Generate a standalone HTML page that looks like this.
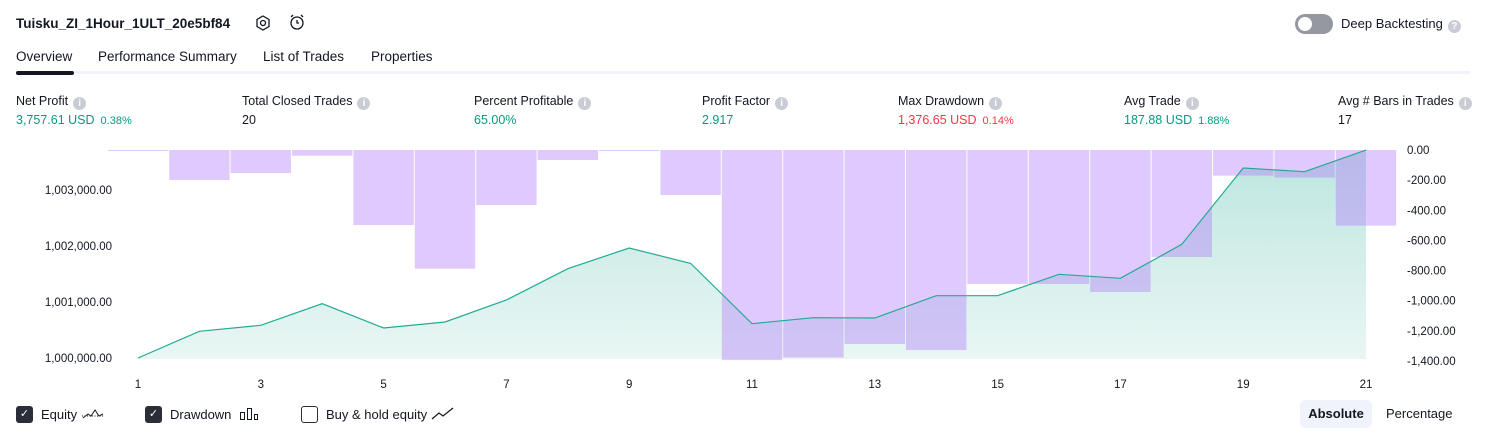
<!DOCTYPE html>
<html><head><meta charset="utf-8"><style>
body{margin:0;width:1486px;height:438px;background:#fff;font-family:"Liberation Sans",sans-serif;color:#131722;position:relative;overflow:hidden}
.a{position:absolute;white-space:nowrap}
.lbl{font-size:12.5px;color:#131722}
.val{font-size:12.5px}
.i{display:inline-block;width:13px;height:13px;border-radius:50%;background:#c9ccd4;color:#fff;font-size:10px;text-align:center;line-height:13px;vertical-align:-1px;margin-left:5px;font-weight:bold}
.g{color:#089981}.r{color:#f23645}
.sm{font-size:11px;margin-left:6px}
.leg{display:flex;align-items:center;font-size:13px;height:20px}
.cb{display:inline-block;width:17px;height:17px;border-radius:3px;margin-right:8px;box-sizing:border-box}
</style></head><body>
<div class="a" style="left:16px;top:16px;font-size:13.5px;font-weight:bold">Tuisku_ZI_1Hour_1ULT_20e5bf84</div>
<svg class="a" style="left:255px;top:15px" width="16" height="16"><polygon points="8,1 14,4.5 14,11.5 8,15 2,11.5 2,4.5" fill="none" stroke="#131722" stroke-width="1.3"/><circle cx="8" cy="8" r="2.5" fill="none" stroke="#131722" stroke-width="1.3"/></svg>
<svg class="a" style="left:288px;top:13px" width="18" height="18"><circle cx="9" cy="10" r="6" fill="none" stroke="#131722" stroke-width="1.3"/><path d="M9 7v3h2M3 4l2-2M15 4l-2-2" stroke="#131722" stroke-width="1.3" fill="none"/></svg>
<div class="a" style="left:1295px;top:14px;width:38px;height:20px;border-radius:10px;background:#9598a1"><div style="position:absolute;left:3px;top:3px;width:14px;height:14px;border-radius:50%;background:#fff"></div></div>
<div class="a" style="left:1341px;top:16px;font-size:13px">Deep Backtesting<span class="i">?</span></div>
<div class="a" style="left:16px;top:49px;font-size:13.5px">Overview</div>
<div class="a" style="left:98px;top:49px;font-size:13.5px">Performance Summary</div>
<div class="a" style="left:263px;top:49px;font-size:13.5px">List of Trades</div>
<div class="a" style="left:371px;top:49px;font-size:13.5px">Properties</div>
<div class="a" style="left:16px;top:71px;width:1454px;height:3px;background:#f0f3fa"></div>
<div class="a" style="left:16px;top:71px;width:58px;height:4px;border-radius:2px;background:#131722"></div>

<div class="a lbl" style="left:16px;top:94px">Net Profit<span class="i">i</span></div>
<div class="a val g" style="left:16px;top:113px">3,757.61 USD<span class="sm">0.38%</span></div>
<div class="a lbl" style="left:242px;top:94px">Total Closed Trades<span class="i">i</span></div>
<div class="a val" style="left:242px;top:113px">20</div>
<div class="a lbl" style="left:474px;top:94px">Percent Profitable<span class="i">i</span></div>
<div class="a val g" style="left:474px;top:113px">65.00%</div>
<div class="a lbl" style="left:702px;top:94px">Profit Factor<span class="i">i</span></div>
<div class="a val g" style="left:702px;top:113px">2.917</div>
<div class="a lbl" style="left:898px;top:94px">Max Drawdown<span class="i">i</span></div>
<div class="a val r" style="left:898px;top:113px">1,376.65 USD<span class="sm">0.14%</span></div>
<div class="a lbl" style="left:1124px;top:94px">Avg Trade<span class="i">i</span></div>
<div class="a val g" style="left:1124px;top:113px">187.88 USD<span class="sm">1.88%</span></div>
<div class="a lbl" style="left:1338px;top:94px">Avg # Bars in Trades<span class="i">i</span></div>
<div class="a val" style="left:1338px;top:113px">17</div>

<svg class="a" id="chart" style="left:0;top:0" width="1486" height="400">
<defs><linearGradient id="fg" x1="0" y1="0" x2="0" y2="1"><stop offset="0" stop-color="#22ab94" stop-opacity="0.3"/><stop offset="1" stop-color="#22ab94" stop-opacity="0.1"/></linearGradient></defs>
</svg>

<div class="a leg" style="left:16px;top:404px"><span class="cb" style="background:#2a2e39;color:#fff;font-size:11px;text-align:center;line-height:17px">✓</span>Equity&nbsp;<svg width="24" height="14"><path d="M1 9h22" stroke="#131722" stroke-dasharray="1 1.5"/><path d="M2 11l5-4 3 2 4-6 4 6 4-2" fill="none" stroke="#131722" stroke-width="1"/></svg></div>
<div class="a leg" style="left:145px;top:404px"><span class="cb" style="background:#2a2e39;color:#fff;font-size:11px;text-align:center;line-height:17px">✓</span>Drawdown&nbsp;&nbsp;<svg width="20" height="14"><rect x="1.5" y="5.5" width="4" height="7" fill="none" stroke="#131722"/><rect x="8.5" y="1.5" width="4" height="11" fill="none" stroke="#131722"/><rect x="15.5" y="7.5" width="3" height="5" fill="none" stroke="#131722"/></svg></div>
<div class="a leg" style="left:301px;top:404px"><span class="cb" style="border:1.5px solid #2a2e39"></span>Buy &amp; hold equity&nbsp;<svg width="24" height="14"><path d="M1 12l7-6 4 3 10-8" fill="none" stroke="#131722" stroke-width="1.2"/></svg></div>
<div class="a" style="left:1300px;top:400px;width:72px;height:28px;border-radius:6px;background:#f0f3fa;font-size:13px;font-weight:bold;text-align:center;line-height:28px">Absolute</div>
<div class="a" style="left:1386px;top:406px;font-size:13px">Percentage</div>

<script>
const tradeNumbers=[1,2,3,4,5,6,7,8,9,10,11,12,13,14,15,16,17,18,19,20,21];
const equityValues=[1000000,1000477,1000584,1000970,1000536,1000643,1001036,1001595,1001964,1001690,1000613,1000720,1000714,1001113,1001113,1001494,1001423,1002030,1003393,1003327,1003714];
const drawdownValues=[-2,-199,-153,-38,-498,-787,-365,-66,-2,-299,-1394,-1377,-1287,-1327,-889,-889,-942,-710,-170,-183,-502];
const leftTicks=[1000000,1001000,1002000,1003000];
const rightTicks=[0,-200,-400,-600,-800,-1000,-1200,-1400];
const NS='http://www.w3.org/2000/svg',svg=document.getElementById('chart');
const X=n=>138+(n-1)*61.4;
const YE=v=>358-(v-1000000)*0.056;
const YD=v=>150-v*0.15071;
function mk(t,a){const e=document.createElementNS(NS,t);for(const k in a)e.setAttribute(k,a[k]);svg.appendChild(e);return e;}
const fmt=v=>v.toLocaleString('en-US',{minimumFractionDigits:2,maximumFractionDigits:2});
let pts=tradeNumbers.map((n,i)=>X(n)+','+YE(equityValues[i]));
const area=mk('polygon',{points:pts.join(' ')+' '+X(tradeNumbers[tradeNumbers.length-1])+',359 '+X(1)+',359',fill:'url(#fg)'});


tradeNumbers.forEach((n,i)=>{
 const y=YD(drawdownValues[i]);
 const b=mk('rect',{x:X(n)-30.7+0.5,y:150,width:60.4,height:Math.max(1,y-150),fill:'rgb(178,119,250)','fill-opacity':0.4});
 
 
});
const line=mk('polyline',{points:pts.join(' '),fill:'none',stroke:'#22ab94','stroke-width':1.2});


leftTicks.forEach(v=>{
 const t=mk('text',{x:112,y:YE(v)+4,'text-anchor':'end','font-size':11.5,fill:'#131722'});t.textContent=fmt(v);
 
 
});
rightTicks.forEach(v=>{
 const t=mk('text',{x:1407,y:YD(v)+4,'font-size':11.5,fill:'#131722'});t.textContent=fmt(v);
 
 
});
tradeNumbers.filter(n=>n%2).forEach(n=>{
 const t=mk('text',{x:X(n),y:388,'text-anchor':'middle','font-size':11.5,fill:'#131722'});t.textContent=n;
 
 
});
</script>
</body></html>
